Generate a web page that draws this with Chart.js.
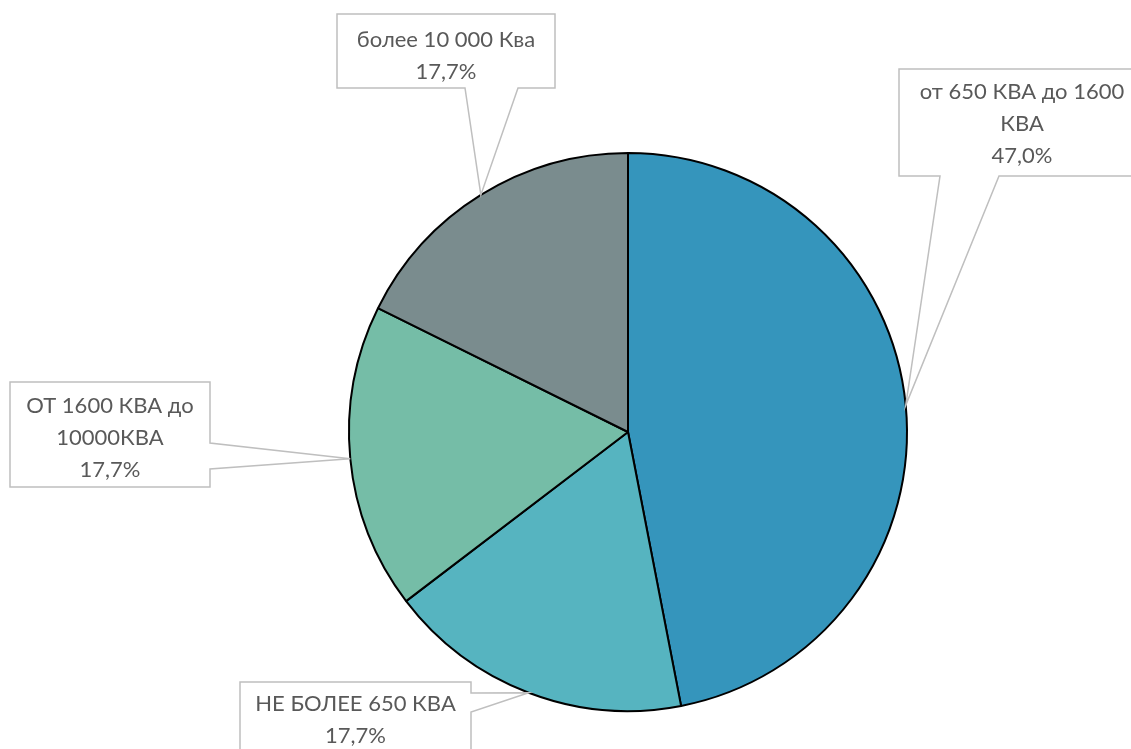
<!DOCTYPE html>
<html><head><meta charset="utf-8">
<script src="https://cdn.jsdelivr.net/npm/chart.js@4"></script>
<style>html,body{margin:0;padding:0;background:#fff;overflow:hidden}#wrap{width:1131px;height:749px}</style>
</head><body><div id="wrap"><canvas id="c" width="1131" height="749"></canvas></div>
<script>
const categories = [["от 650 КВА до 1600", "КВА"], ["НЕ БОЛЕЕ 650 КВА"], ["ОТ 1600 КВА до", "10000КВА"], ["более 10 000 Ква"]];
const values = [47.0, 17.7, 17.7, 17.7];
const colors = ["#3595BC", "#56B4C0", "#75BDA7", "#7A8C8E"];

// callout layout (box rect, pointer side and base span, text center)
const callouts = [
  {x0: 899, y0: 69, x1: 1145, y1: 176, side: 'bottom', b0: 940, b1: 999, cy: 92},
  {x0: 240, y0: 682, x1: 471, y1: 790, side: 'right', b0: 693, b1: 712, cy: 704},
  {x0: 10, y0: 382, x1: 210, y1: 487, side: 'right', b0: 443, b1: 469, cy: 406},
  {x0: 337, y0: 14, x1: 555, y1: 88, side: 'bottom', b0: 465, b1: 518, cy: 40}
];

const calloutPlugin = {
  id: 'callouts',
  afterDatasetsDraw(chart) {
    const ctx = chart.ctx;
    const meta = chart.getDatasetMeta(0);
    meta.data.forEach((arc, i) => {
      const c = callouts[i];
      const mid = (arc.startAngle + arc.endAngle) / 2;
      const tx = arc.x + Math.cos(mid) * arc.outerRadius;
      const ty = arc.y + Math.sin(mid) * arc.outerRadius;
      ctx.save();
      ctx.beginPath();
      ctx.moveTo(c.x0, c.y0);
      ctx.lineTo(c.x1, c.y0);
      if (c.side === 'right') {
        ctx.lineTo(c.x1, c.b0);
        ctx.lineTo(tx, ty);
        ctx.lineTo(c.x1, c.b1);
      }
      ctx.lineTo(c.x1, c.y1);
      if (c.side === 'bottom') {
        ctx.lineTo(c.b1, c.y1);
        ctx.lineTo(tx, ty);
        ctx.lineTo(c.b0, c.y1);
      }
      ctx.lineTo(c.x0, c.y1);
      ctx.closePath();
      ctx.fillStyle = '#ffffff';
      ctx.fill();
      ctx.strokeStyle = '#BFBFBF';
      ctx.lineWidth = 1.5;
      ctx.stroke();
      ctx.fillStyle = '#595959';
      ctx.font = '22px Lato, "Open Sans", sans-serif';
      ctx.textAlign = 'center';
      ctx.textBaseline = 'middle';
      const lines = categories[i].concat([values[i].toFixed(1).replace('.', ',') + '%']);
      const cx = (c.x0 + c.x1) / 2;
      lines.forEach((t, k) => ctx.fillText(t, cx, c.cy + k * 32));
      ctx.restore();
    });
  }
};

new Chart(document.getElementById('c'), {
  type: 'pie',
  data: {
    labels: categories.map(l => l.join(' ')),
    datasets: [{
      data: values,
      backgroundColor: colors,
      borderColor: '#000000',
      borderWidth: 2
    }]
  },
  options: {
    responsive: false,
    animation: false,
    layout: {padding: {top: 152, bottom: 37, left: 348, right: 223}},
    plugins: {legend: {display: false}, tooltip: {enabled: false}},
    events: []
  },
  plugins: [calloutPlugin]
});
</script>
</body></html>
